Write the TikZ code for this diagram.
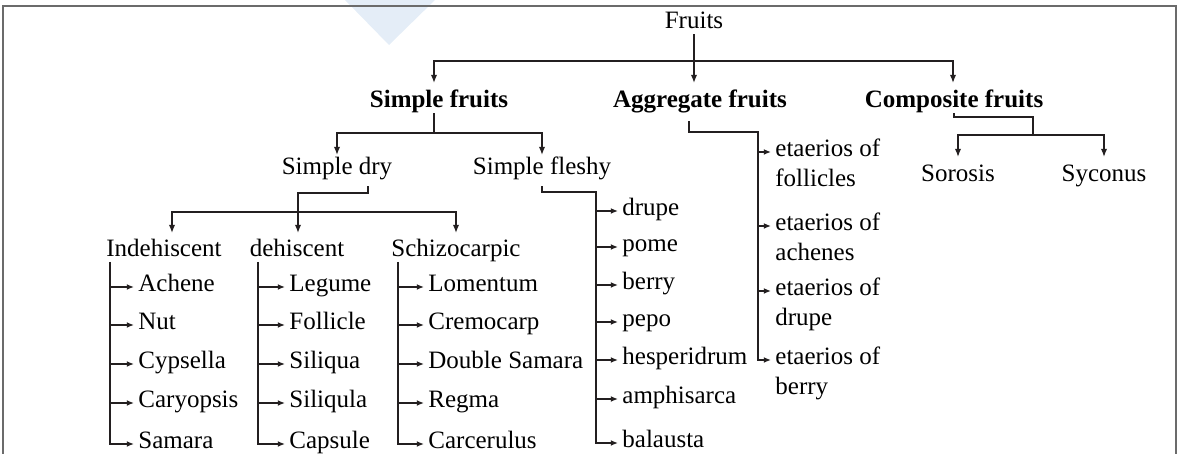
\documentclass[tikz,border=0pt]{standalone}
\usepackage{fontspec}
\setmainfont{Liberation Serif}
\usepackage{tikz}
\usetikzlibrary{positioning,arrows.meta}
\definecolor{tinta}{HTML}{231F20}
\definecolor{marco}{HTML}{6B6B6B}
\definecolor{marca}{HTML}{E4EDF7}
\newcommand{\duo}[2]{\vtop{\hbox{#1}\hbox{#2}}}

\begin{document}
\begin{tikzpicture}[x=0.5pt,y=-0.5pt,
      every node/.style={font=\fontsize{12.5}{15}\selectfont,inner sep=0pt},
      hd/.style={font=\fontsize{12.5}{15}\selectfont\bfseries,text height=0.72em,text depth=0.25em,anchor=base},
      sub/.style={text height=0.72em,text depth=0.25em,anchor=base},
      leaf/.style={anchor=west,inner xsep=2pt,text height=1ex,text depth=0pt},
      ln/.style={line width=0.8pt,tinta},
      fl/.style={ln,-{Latex[length=4.2pt,width=3.2pt]},shorten >=5pt},
      tip/.style={ln,-{Latex[length=3.6pt,width=3pt]}}]
    \useasboundingbox (0,0) rectangle (1179,454);
    \fill[marca] (345,0) -- (435,0) -- (389,45) -- cycle;
    \draw[marco,line width=0.8pt] (3,454) -- (3,6) -- (1176,6) -- (1176,454);
    % heads
    \node[sub] (fruits) at (694,29) {Fruits};
    \node[hd] (simple) at (439,108) {Simple fruits};
    \node[hd] (aggr) at (700,108) {Aggregate fruits};
    \node[hd] (comp) at (954,108) {Composite fruits};
    \node[sub] (sdry) at (337,175) {Simple dry};
    \node[sub] (sfleshy) at (542,175) {Simple fleshy};
    \node[sub] (soro) at (958,182) {Sorosis};
    \node[sub] (syco) at (1104,182) {Syconus};
    \node[sub] (indeh) at (164,257) {Indehiscent};
    \node[sub] (dehis) at (297,257) {dehiscent};
    \node[sub] (schizo) at (456,257) {Schizocarpic};
    % dry fruits
    \node[leaf] (achene) at (134,287) {Achene};
    \node[leaf] (nut) at (134,325) {Nut};
    \node[leaf] (cyps) at (134,364) {Cypsella};
    \node[leaf] (cary) at (134,403) {Caryopsis};
    \node[leaf] (samara) at (134,444) {Samara};
    \node[leaf] (legume) at (285,287) {Legume};
    \node[leaf] (folli) at (285,325) {Follicle};
    \node[leaf] (siliq) at (285,364) {Siliqua};
    \node[leaf] (silul) at (285,403) {Siliqula};
    \node[leaf] (caps) at (285,444) {Capsule};
    \node[leaf] (loment) at (424,287) {Lomentum};
    \node[leaf] (cremo) at (424,325) {Cremocarp};
    \node[leaf] (dsam) at (424,364) {Double Samara};
    \node[leaf] (regma) at (424,403) {Regma};
    \node[leaf] (carce) at (424,444) {Carcerulus};
    % fleshy fruits
    \node[leaf] (drupe) at (618,211) {drupe};
    \node[leaf] (pome) at (618,247) {pome};
    \node[leaf] (berry) at (618,285) {berry};
    \node[leaf] (pepo) at (618,322) {pepo};
    \node[leaf] (hesp) at (618,360) {hesperidrum};
    \node[leaf] (amphi) at (618,399) {amphisarca};
    \node[leaf] (bala) at (618,443) {balausta};
    % aggregate
    \node[leaf] (ae1) at (771,152) {\duo{etaerios of}{follicles}};
    \node[leaf] (ae2) at (771,226) {\duo{etaerios of}{achenes}};
    \node[leaf] (ae3) at (771,291) {\duo{etaerios of}{drupe}};
    \node[leaf] (ae4) at (771,360) {\duo{etaerios of}{berry}};
    % connectors
    \coordinate (tb) at (694,61);
    \coordinate (sb) at (434,133);
    \coordinate (av) at (758,132);
    \coordinate (ck) at (1033,117);
    \coordinate (cb) at (1033,135);
    \coordinate (dk) at (298,193);
    \coordinate (db) at (298,212);
    \coordinate (fv) at (596,192);
    \coordinate (iv) at (110,262);
    \coordinate (dv) at (258,262);
    \coordinate (sv) at (398,262);
    \draw[fl] (fruits.south) -- (fruits.south |- aggr.north);
    \draw[fl] (tb) -| ([xshift=-2.5pt]simple.north);
    \draw[fl] (tb) -| ([xshift=-0.5pt]comp.north);
    \draw[ln] ([xshift=-2.5pt]simple.south) -- (sb);
    \draw[fl,shorten >=2.5pt] (sb) -| (sdry.north);
    \draw[fl,shorten >=2.5pt] (sb) -| (sfleshy.north);
    \draw[ln] (comp.south) |- (ck) -- (cb);
    \draw[fl] (cb) -| (soro.north);
    \draw[fl] (cb) -| (syco.north);
    \draw[fl,shorten >=4.5pt] ([xshift=15.5pt,yshift=-3pt]sdry.south) |- (dk) -- (dk |- dehis.north);
    \draw[fl,shorten >=4.5pt] (db) -| ([xshift=4pt]indeh.north);
    \draw[fl,shorten >=4.5pt] (db) -| (schizo.north);
    \draw[tip] (iv) |- (samara);
    \draw[tip] (iv |- achene) -- (achene);
    \draw[tip] (iv |- nut) -- (nut);
    \draw[tip] (iv |- cyps) -- (cyps);
    \draw[tip] (iv |- cary) -- (cary);
    \draw[tip] (dv) |- (caps);
    \draw[tip] (dv |- legume) -- (legume);
    \draw[tip] (dv |- folli) -- (folli);
    \draw[tip] (dv |- siliq) -- (siliq);
    \draw[tip] (dv |- silul) -- (silul);
    \draw[tip] (sv) |- (carce);
    \draw[tip] (sv |- loment) -- (loment);
    \draw[tip] (sv |- cremo) -- (cremo);
    \draw[tip] (sv |- dsam) -- (dsam);
    \draw[tip] (sv |- regma) -- (regma);
    \draw[tip] ([yshift=-3pt]sfleshy.south) |- (fv) |- (bala);
    \draw[tip] (fv |- drupe) -- (drupe);
    \draw[tip] (fv |- pome) -- (pome);
    \draw[tip] (fv |- berry) -- (berry);
    \draw[tip] (fv |- pepo) -- (pepo);
    \draw[tip] (fv |- hesp) -- (hesp);
    \draw[tip] (fv |- amphi) -- (amphi);
    \draw[tip] ([xshift=-5.5pt,yshift=-4pt]aggr.south) |- (av) |- (ae4);
    \draw[tip] (av |- ae1) -- (ae1);
    \draw[tip] (av |- ae2) -- (ae2);
    \draw[tip] (av |- ae3) -- (ae3);
  \end{tikzpicture}
\end{document}
